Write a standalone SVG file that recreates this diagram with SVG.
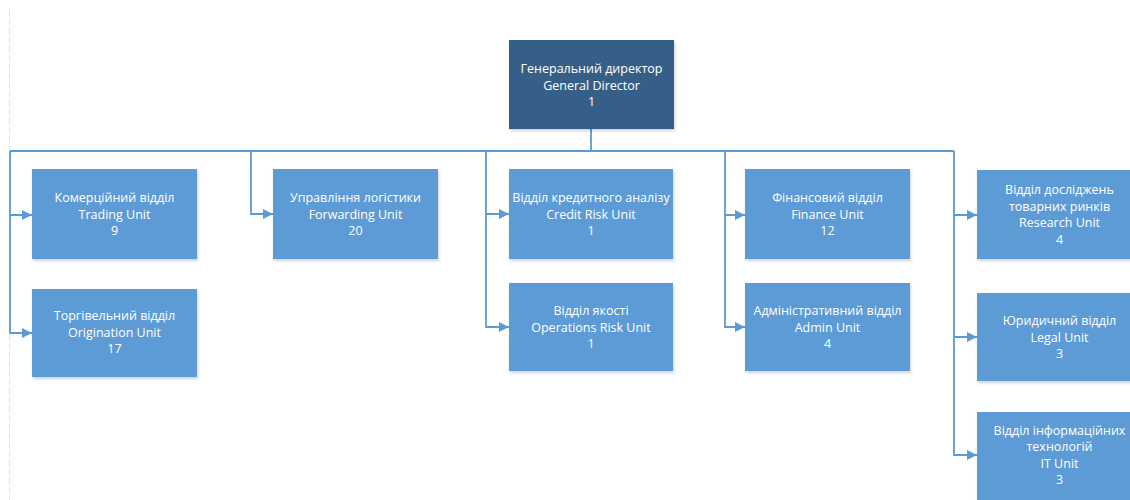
<svg xmlns="http://www.w3.org/2000/svg" width="1130" height="500" viewBox="0 0 1130 500">
<style>
.box{fill:#5b9bd5;filter:url(#sh)}
.top{fill:#345f86;filter:url(#sh)}
text{font-family:"Open Sans","Noto Sans",sans-serif;font-size:12.5px;fill:#fff;text-anchor:middle}
.c{fill:none;stroke:#5b9bd5;stroke-width:1.8}
.a{marker-end:url(#ar)}
</style>
<defs>
<filter id="sh" x="-10%" y="-10%" width="120%" height="130%"><feDropShadow dx="1" dy="2" stdDeviation="1.5" flood-color="#000" flood-opacity="0.18"/></filter>
<marker id="ar" viewBox="0 0 10 10" refX="10" refY="5" markerWidth="10" markerHeight="10" markerUnits="userSpaceOnUse" orient="auto"><path d="M0,0 L10,5 L0,10 z" fill="#5b9bd5"/></marker>
</defs>
<rect width="1130" height="500" fill="#fff"/>
<line x1="9.5" y1="10" x2="9.5" y2="500" stroke="#e4e4e4" stroke-width="1" stroke-dasharray="6,3"/>
<g id="connectors">
<path class="c" d="M591,129 V151 M10,151 H954"/>
<path class="c a" d="M10,151 V215 H32"/>
<path class="c a" d="M10,215 V333 H32"/>
<path class="c a" d="M251,151 V214 H273"/>
<path class="c a" d="M486,151 V214 H509"/>
<path class="c a" d="M486,214 V327 H509"/>
<path class="c a" d="M725,151 V215 H745"/>
<path class="c a" d="M725,215 V327 H745"/>
<path class="c a" d="M954,151 V215 H977"/>
<path class="c a" d="M954,215 V337 H977"/>
<path class="c a" d="M954,337 V455 H977"/>
</g>
<g id="general-director"><rect class="top" x="509" y="40" width="165" height="89"/><text x="591.5" y="73">Генеральний директор</text><text x="591.5" y="89.5">General Director</text><text x="591.5" y="106">1</text></g>
<g id="trading"><rect class="box" x="32" y="169" width="165" height="90"/><text x="114.5" y="202">Комерційний відділ</text><text x="114.5" y="218.5">Trading Unit</text><text x="114.5" y="235">9</text></g>
<g id="origination"><rect class="box" x="32" y="289" width="165" height="88"/><text x="114.5" y="320">Торгівельний відділ</text><text x="114.5" y="336.5">Origination Unit</text><text x="114.5" y="353">17</text></g>
<g id="forwarding"><rect class="box" x="273" y="169" width="165" height="90"/><text x="355.5" y="202">Управління логістики</text><text x="355.5" y="218.5">Forwarding Unit</text><text x="355.5" y="235">20</text></g>
<g id="credit-risk"><rect class="box" x="509" y="169" width="164" height="90"/><text x="591" y="202">Відділ кредитного аналізу</text><text x="591" y="218.5">Credit Risk Unit</text><text x="591" y="235">1</text></g>
<g id="operations-risk"><rect class="box" x="509" y="283" width="164" height="88"/><text x="591" y="315">Відділ якості</text><text x="591" y="331.5">Operations Risk Unit</text><text x="591" y="348">1</text></g>
<g id="finance"><rect class="box" x="745" y="169" width="165" height="90"/><text x="827.5" y="202">Фінансовий відділ</text><text x="827.5" y="218.5">Finance Unit</text><text x="827.5" y="235">12</text></g>
<g id="admin"><rect class="box" x="745" y="283" width="165" height="88"/><text x="827.5" y="315">Адміністративний відділ</text><text x="827.5" y="331.5">Admin Unit</text><text x="827.5" y="348">4</text></g>
<g id="research"><rect class="box" x="977" y="170" width="165" height="89"/><text x="1059.5" y="194">Відділ досліджень</text><text x="1059.5" y="210.5">товарних ринків</text><text x="1059.5" y="227">Research Unit</text><text x="1059.5" y="243.5">4</text></g>
<g id="legal"><rect class="box" x="977" y="293" width="165" height="88"/><text x="1059.5" y="325">Юридичний відділ</text><text x="1059.5" y="341.5">Legal Unit</text><text x="1059.5" y="358">3</text></g>
<g id="it"><rect class="box" x="977" y="412" width="165" height="95"/><text x="1059.5" y="434.5">Відділ інформаційних</text><text x="1059.5" y="451">технологій</text><text x="1059.5" y="467.5">IT Unit</text><text x="1059.5" y="484">3</text></g>
</svg>
